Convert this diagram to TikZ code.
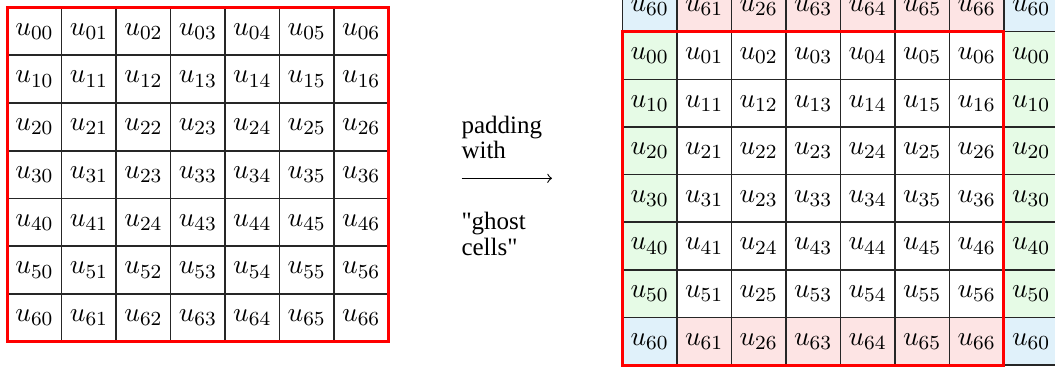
\documentclass[tikz,border=0pt]{standalone}
\usepackage{fontspec}
\setmainfont{Liberation Serif}[Ligatures=TeXOff]
\definecolor{ghostgreen}{RGB}{230,251,230}
\definecolor{ghostred}{RGB}{253,228,228}
\definecolor{ghostblue}{RGB}{224,241,250}
\begin{document}
\begin{tikzpicture}[x=0.4pt,y=-0.4pt,
  cell/.style={draw=black!85, line width=0.6pt, minimum width=21.8pt,
    minimum height=19.08pt, inner sep=0pt, outer sep=0pt,
    font=\fontsize{10.95}{13}\selectfont},
  kind0/.style={fill=white},
  kind1/.style={fill=ghostgreen},
  kind2/.style={fill=ghostred},
  kind3/.style={fill=ghostblue},
  redbox/.style={draw=red, line width=1.2pt},
  sidetext/.style={anchor=base west, inner sep=0pt, font=\normalsize}]
\useasboundingbox (0,0) rectangle (1055,368);
\clip (0,0) rectangle (1055,368);

% original 7x7 grid
\foreach \vals [count=\r from 0] in {
    {00,01,02,03,04,05,06},
    {10,11,12,13,14,15,16},
    {20,21,22,23,24,25,26},
    {30,31,23,33,34,35,36},
    {40,41,24,43,44,45,46},
    {50,51,52,53,54,55,56},
    {60,61,62,63,64,65,66}} {
  \foreach \v [count=\c from 0] in \vals {
    \node[cell, kind0] (L-\r-\c) at ({7.3+54.45*(\c+0.5)},{7.4+47.77*(\r+0.5)}) {$u_{\v}$};
  }
}
\draw[redbox] (L-0-0.north west) rectangle (L-6-6.south east);

% padded grid with ghost row on top and ghost column on the right
\foreach \vals [count=\r from 0] in {
    {60,61,26,63,64,65,66,60},
    {00,01,02,03,04,05,06,00},
    {10,11,12,13,14,15,16,10},
    {20,21,22,23,24,25,26,20},
    {30,31,23,33,34,35,36,30},
    {40,41,24,43,44,45,46,40},
    {50,51,25,53,54,55,56,50},
    {60,61,26,63,64,65,66,60}} {
  \foreach \v [count=\c from 0] in \vals {
    \pgfmathtruncatemacro\kind{2*or(\r==0,\r==7)+or(\c==0,\c==7)}
    \node[cell, kind\kind] (R-\r-\c) at ({622.4+54.5*(\c+0.5)},{-15.9+47.63*(\r+0.5)}) {$u_{\v}$};
  }
}
\draw[redbox] (R-1-0.north west) rectangle (R-7-6.south east);

% arrow with its caption
\node[sidetext] (pad1) at (461,133) {padding};
\node[sidetext] (pad2) at (461,158) {with};
\node[sidetext] (pad3) at (461,229) {"ghost};
\node[sidetext] (pad4) at (461,255) {cells"};
\coordinate (arrowtail) at (461.5,178.3);
\coordinate (arrowhead) at (552,178.3);
\draw[->, line width=0.45pt] (arrowtail) -- (arrowhead);
\end{tikzpicture}
\end{document}
